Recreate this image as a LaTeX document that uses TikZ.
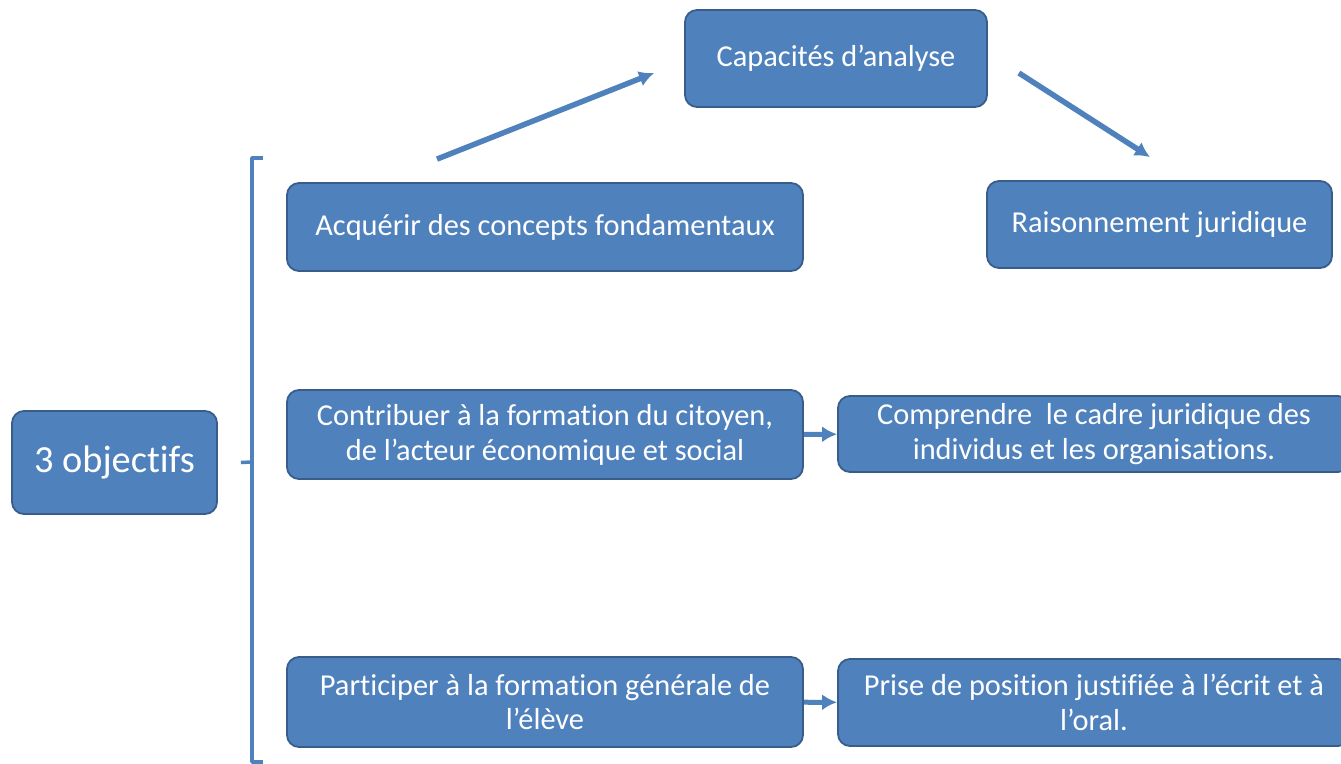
\documentclass[tikz,border=0pt]{standalone}
\usepackage{fontspec}
\setmainfont{Carlito}[Ligatures={NoCommon}]
\usetikzlibrary{arrows.meta}
\usetikzlibrary{shapes, calc}
\definecolor{boxfill}{RGB}{79,129,189}
\definecolor{boxline}{RGB}{56,93,138}

\begin{document}
\begin{tikzpicture}[>=latex,line join=bevel,
  box/.style={draw=boxline,line width=1.8bp,fill=boxfill,rounded corners=12bp,
    text=white,align=center,inner sep=0pt,font=\fontsize{30.5}{35}\selectfont},
  link/.style={-{Latex[length=15bp,width=16bp]},draw=boxfill,line width=5.5bp}]
%%
\useasboundingbox (0bp,0bp) rectangle (1341bp,-764bp);
\node (node_0) at (836bp,-58.5bp) [box,minimum width=302bp,minimum height=97bp] {Capacités d’analyse};
  \node (node_1) at (545bp,-227bp) [box,minimum width=516bp,minimum height=88bp] {Acquérir des concepts fondamentaux};
  \node (node_2) at (1159.5bp,-224.5bp) [box,minimum width=345bp,minimum height=87bp] {Raisonnement juridique};
  \node (node_3) at (114.5bp,-462.5bp) [box,minimum width=205bp,minimum height=103bp,font=\fontsize{38.5}{44}\selectfont] {3 objectifs};
  \node (node_4) at (545bp,-434.5bp) [box,minimum width=516bp,minimum height=89bp] {Contribuer à la formation du citoyen,\\de l’acteur économique et social};
  \node (node_5) at (1094bp,-434bp) [box,minimum width=512bp,minimum height=76bp] {Comprendre\ \ le cadre juridique des\\individus et les organisations.};
  \node (node_6) at (545bp,-702bp) [box,minimum width=516bp,minimum height=90bp] {Participer à la formation générale de\\l’élève};
  \node (node_7) at (1094bp,-702.5bp) [box,minimum width=512bp,minimum height=87bp] {Prise de position justifiée à l’écrit et à\\l’oral.};
  \draw [link] ([xshift=-108bp,yshift=23bp]node_1.north) -- ([xshift=-30bp,yshift=-14.5bp]node_0.west);
  \draw [link] ([xshift=31bp,yshift=-14.5bp]node_0.east) -- ([xshift=-9.5bp,yshift=23bp]node_2.north);
  \draw [link,line width=5bp] (node_4) -- (node_5);
  \draw [link,line width=5bp] (node_6) -- (node_7);
  % accolade
  \draw [boxfill,line width=3.5bp] (263bp,-158bp) -- (252bp,-158bp) -- (252bp,-762bp) -- (263bp,-762bp);
  \draw [boxfill,line width=3.5bp] (252bp,-462bp) -- ([xshift=23bp]node_3.east);
%
\end{tikzpicture}
\end{document}
